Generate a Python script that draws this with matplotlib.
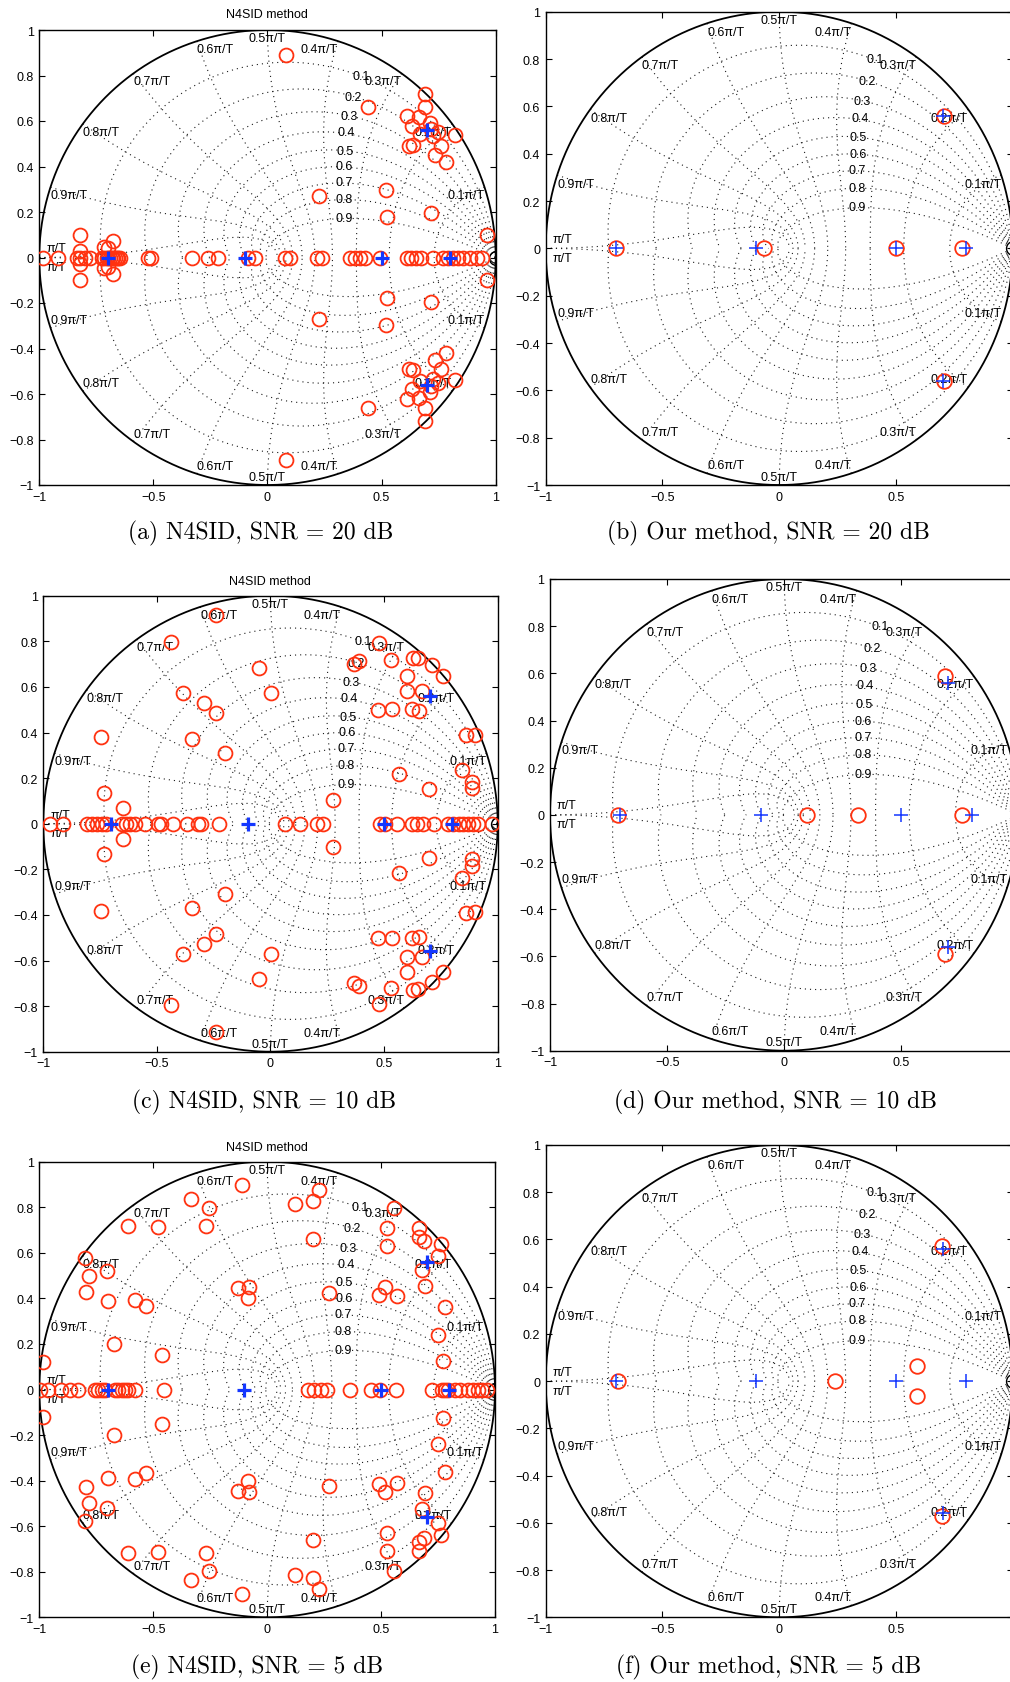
import numpy as np
import matplotlib
matplotlib.use('Agg')
import matplotlib.pyplot as plt
from matplotlib.ticker import FixedLocator, FixedFormatter

# ---------------- data ----------------
true_real = [-0.7, -0.1, 0.5, 0.8]
true_cplx_x = [0.7]
true_cplx_y = [0.56]

a_real = [-0.982, -0.917, -0.836, -0.822, -0.80, -0.778, -0.727, -0.715, -0.705, -0.698,
          -0.69, -0.683, -0.675, -0.669, -0.66, -0.654, -0.645, -0.522, -0.512, -0.332,
          -0.262, -0.215, -0.085, -0.055, 0.077, 0.099, 0.216, 0.240, 0.362, 0.384, 0.406,
          0.428, 0.493, 0.610, 0.628, 0.650, 0.671, 0.727, 0.771, 0.793, 0.815, 0.836,
          0.858, 0.888, 0.917, 0.939]
a_cplx_x = [0.081, 0.442, 0.690, 0.690, 0.613, 0.663, 0.635, 0.710, 0.715, 0.668, 0.727,
            0.745, 0.822, 0.622, 0.639, 0.759, 0.734, 0.782, 0.520, 0.227, 0.523, 0.715,
            0.961, -0.822, -0.822, -0.676, -0.715, -0.700]
a_cplx_y = [0.890, 0.660, 0.720, 0.660, 0.623, 0.616, 0.579, 0.590, 0.565, 0.543, 0.533,
            0.550, 0.538, 0.491, 0.494, 0.491, 0.451, 0.421, 0.298, 0.270, 0.176, 0.195,
            0.100, 0.100, 0.030, 0.071, 0.045, 0.040]

b_real = [-0.70, -0.067, 0.50, 0.785]
b_cplx_x = [0.704]
b_cplx_y = [0.56]

c_real = [-0.970, -0.912, -0.809, -0.787, -0.765, -0.743, -0.724, -0.655, -0.636, -0.618,
          -0.596, -0.552, -0.494, -0.480, -0.428, -0.369, -0.318, -0.308, -0.225, 0.064,
          0.130, 0.203, 0.232, 0.482, 0.504, 0.555, 0.621, 0.643, 0.673, 0.720, 0.783,
          0.805, 0.831, 0.849, 0.871, 0.893, 0.915, 0.974]
c_cplx_x = [-0.241, -0.438, -0.051, -0.387, -0.293, -0.240, 0.002, -0.347, -0.199, -0.748,
            -0.733, -0.648, 0.277, 0.479, 0.368, 0.391, 0.529, 0.626, 0.651, 0.712, 0.761,
            0.602, 0.602, 0.668, 0.475, 0.533, 0.621, 0.655, 0.861, 0.900, 0.842, 0.886,
            0.886, 0.566, 0.699]
c_cplx_y = [0.915, 0.795, 0.681, 0.573, 0.528, 0.484, 0.572, 0.371, 0.308, 0.382,
            0.133, 0.069, 0.104, 0.791, 0.699, 0.712, 0.719, 0.728, 0.725, 0.696, 0.649,
            0.649, 0.583, 0.583, 0.500, 0.503, 0.503, 0.496, 0.390, 0.389, 0.237, 0.184,
            0.155, 0.218, 0.152]

d_real = [-0.711, 0.098, 0.316, 0.76]
d_cplx_x = [0.685]
d_cplx_y = [0.59]

e_real = [-0.997, -0.960, -0.906, -0.865, -0.829, -0.756, -0.741, -0.726, -0.712, -0.668,
          -0.653, -0.639, -0.624, -0.609, -0.580, -0.451, 0.181, 0.207, 0.235, 0.261,
          0.364, 0.456, 0.495, 0.564, 0.722, 0.766, 0.781, 0.795, 0.824, 0.846, 0.883,
          0.905, 0.927, 0.941, 0.963]
e_cplx_x = [-0.112, -0.336, -0.254, -0.268, -0.609, -0.478, 0.122, 0.203, 0.229, 0.200,
            0.557, 0.525, 0.525, 0.668, 0.668, 0.690, 0.763, 0.751, 0.678, 0.693, 0.781,
            0.751, 0.770, 0.492, 0.517, 0.571, 0.270, -0.129, -0.078, -0.083, -0.800,
            -0.702, -0.781, -0.795, -0.700, -0.580, -0.533, -0.671, -0.462, -0.982]
e_cplx_y = [0.898, 0.838, 0.797, 0.719, 0.719, 0.712, 0.814, 0.826, 0.876, 0.661,
            0.797, 0.707, 0.631, 0.709, 0.671, 0.653, 0.639, 0.584, 0.526, 0.453, 0.364,
            0.241, 0.127, 0.416, 0.448, 0.412, 0.422, 0.444, 0.451, 0.400, 0.577,
            0.519, 0.497, 0.429, 0.390, 0.394, 0.368, 0.200, 0.153, 0.119]

f_real = [-0.689, 0.24]
f_cplx_x = [0.697, 0.591]
f_cplx_y = [0.572, 0.064]

captions = ["(a) N4SID, SNR = 20 dB", "(b) Our method, SNR = 20 dB",
            "(c) N4SID, SNR = 10 dB", "(d) Our method, SNR = 10 dB",
            "(e) N4SID, SNR = 5 dB", "(f) Our method, SNR = 5 dB"]
title_text = "N4SID method"
xticks = [-1, -0.5, 0, 0.5, 1]
xticklabels = ["\u22121", "\u22120.5", "0", "0.5", "1"]
yticks = [-1, -0.8, -0.6, -0.4, -0.2, 0, 0.2, 0.4, 0.6, 0.8, 1]
yticklabels = ["\u22121", "\u22120.8", "\u22120.6", "\u22120.4", "\u22120.2", "0",
               "0.2", "0.4", "0.6", "0.8", "1"]
zeta_vals = [0.1, 0.2, 0.3, 0.4, 0.5, 0.6, 0.7, 0.8, 0.9]
wn_vals = [0.1, 0.2, 0.3, 0.4, 0.5, 0.6, 0.7, 0.8, 0.9, 1.0]

# ---------------- layout ----------------
W, H = 1010, 1683
fig = plt.figure(figsize=(W / 100, H / 100), dpi=100)
SANS = ['Liberation Sans', 'DejaVu Sans']
FS = 9.0
RED = '#ff3210'
BLUE = '#1437ff'
DOT = (0, (1, 3.6))
GRIDC = '0.1'


def px_axes(L, T, R, B):
    return fig.add_axes([L / W, 1 - B / H, (R - L) / W, (B - T) / H])


def zgrid(ax):
    th = np.linspace(0, np.pi, 300)
    for z in zeta_vals:
        m = np.tan(np.arcsin(z))
        zz = np.exp(th * (-m + 1j))
        for s in (1, -1):
            ax.plot(zz.real, s * zz.imag, color=GRIDC, lw=0.8, ls=DOT, zorder=1)
    phi = np.linspace(np.pi / 2, np.pi, 200)
    for w in wn_vals:
        zz = np.exp(w * np.pi * np.exp(1j * phi))
        for s in (1, -1):
            ax.plot(zz.real, s * zz.imag, color=GRIDC, lw=0.8, ls=DOT, zorder=1)
    # frequency labels
    for w in wn_vals:
        ang = w * np.pi
        lab = ('%.1f\u03c0/T' % w) if w < 1 else '\u03c0/T'
        if w < 1:
            x, y = np.cos(ang), np.sin(ang) - 0.035
            ha = 'right' if w < 0.5 else ('center' if abs(w - 0.5) < 1e-9 else 'left')
        else:
            x, y = -0.97, 0.04
            ha = 'left'
        for s in (1, -1):
            ax.text(x, s * y, lab, ha=ha, va='center', fontsize=FS, family=SANS,
                    zorder=2, clip_on=True)
    # damping labels
    dpos = [(0.409, 0.80), (0.375, 0.707), (0.356, 0.623), (0.345, 0.55), (0.34, 0.47),
            (0.337, 0.40), (0.335, 0.33), (0.335, 0.257), (0.335, 0.174)]
    for z, (x, y) in zip(zeta_vals, dpos):
        ax.text(x, y, '%.1f' % z, ha='center', va='center', fontsize=FS, family=SANS,
                zorder=2)


def panel(box, real, cx, cy, left):
    ax = px_axes(*box)
    ax.set_xlim(-1, 1)
    ax.set_ylim(-1, 1)
    zgrid(ax)
    t = np.linspace(0, 2 * np.pi, 400)
    ax.plot(np.cos(t), np.sin(t), color='k', lw=1.3, zorder=3)
    ax.plot([1], [0], 'o', ms=10, mfc='none', mec='k', mew=1.0, zorder=3)
    ms_o = 10 if left else 10.5
    ax.plot(real, np.zeros(len(real)), 'o', ms=ms_o, mfc='none', mec=RED, mew=1.3, zorder=4)
    ax.plot(list(cx) + list(cx), list(cy) + [-v for v in cy], 'o', ms=ms_o, mfc='none',
            mec=RED, mew=1.3, zorder=4)
    px = list(true_real) + list(true_cplx_x) * 2
    py = [0] * len(true_real) + list(true_cplx_y) + [-v for v in true_cplx_y]
    if left:
        ax.plot(px, py, '+', ms=9.5, mew=2.3, color=BLUE, zorder=5)
    else:
        ax.plot(px, py, '+', ms=10, mew=1.1, color=BLUE, zorder=5)
    ax.xaxis.set_major_locator(FixedLocator(xticks))
    # the right-column panels run past the page edge, so their "1" label is not visible
    xl = list(xticklabels) if left else list(xticklabels[:-1]) + ['']
    ax.xaxis.set_major_formatter(FixedFormatter(xl))
    ax.yaxis.set_major_locator(FixedLocator(yticks))
    ax.yaxis.set_major_formatter(FixedFormatter(yticklabels))
    ax.tick_params(direction='in', length=4, width=0.8, top=True, right=True,
                   labelsize=FS, pad=4)
    for lbl in ax.get_xticklabels() + ax.get_yticklabels():
        lbl.set_family(SANS)
    for sp in ax.spines.values():
        sp.set_linewidth(1.0)
    return ax


boxes = [(39.3, 31, 495.7, 486), (545.7, 12.7, 1012.7, 486),
         (43.3, 596.7, 497.7, 1052.7), (550, 580, 1018.6, 1051.7),
         (39.3, 1162.7, 495, 1618.3), (545.7, 1146, 1012.7, 1618.3)]
datasets = [(a_real, a_cplx_x, a_cplx_y), (b_real, b_cplx_x, b_cplx_y),
            (c_real, c_cplx_x, c_cplx_y), (d_real, d_cplx_x, d_cplx_y),
            (e_real, e_cplx_x, e_cplx_y), (f_real, f_cplx_x, f_cplx_y)]
title_pos = [(267, 15), None, (270, 581.7), None, (267, 1147.7), None]
cap_pos = [(261, 533), (768, 533), (264, 1102), (775, 1102), (257, 1667), (769, 1667)]

for i, (box, ds) in enumerate(zip(boxes, datasets)):
    left = (i % 2 == 0)
    panel(box, ds[0], ds[1], ds[2], left)
    if title_pos[i] is not None:
        tx, ty = title_pos[i]
        fig.text(tx / W, 1 - ty / H, title_text, ha='center', va='center',
                 fontsize=FS, family=SANS)
    cx, cy = cap_pos[i]
    fig.text(cx / W, 1 - cy / H, captions[i], ha='center', va='center',
             fontsize=17, family=['cmr10', 'DejaVu Serif'])

fig.savefig('out.png', dpi=100)
